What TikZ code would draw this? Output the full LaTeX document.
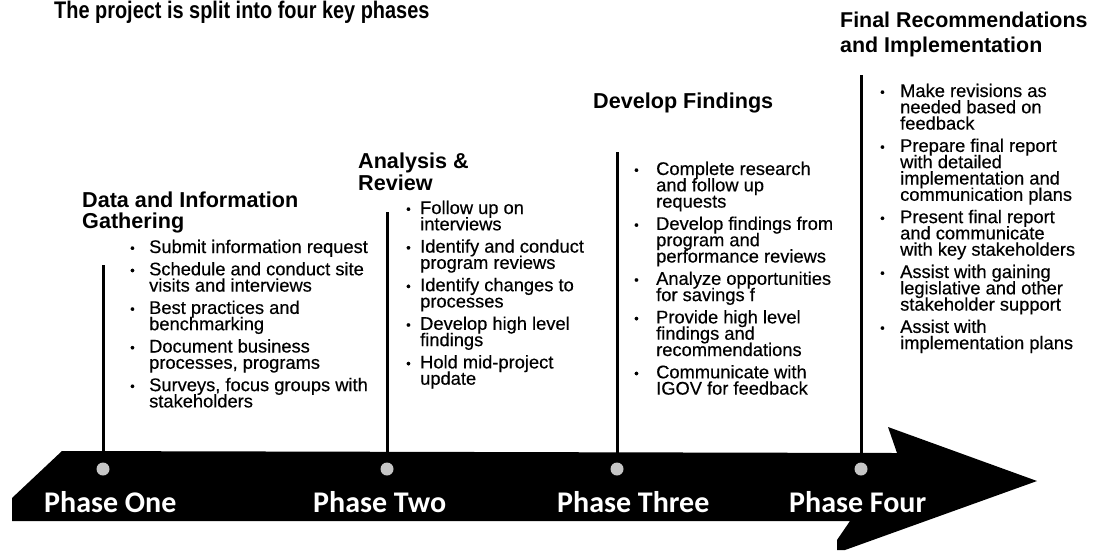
\documentclass[tikz,border=0pt]{standalone}
\usepackage{fontspec}
\setmainfont{Liberation Sans}
\newfontfamily\listfont{Liberation Sans}[FakeBold=0.4]
\newfontfamily\titlefont{Liberation Sans}[FakeStretch=0.83]
\newfontfamily\phasefont{Carlito}

% bullet lists under each phase
\newlength\bulletgap
\newcommand\phaseitem[1]{\par\addvspace{6pt}\hangindent=\bulletgap\hangafter=1\noindent
	\makebox[\bulletgap][l]{\raisebox{0.5pt}{\fontsize{13}{13}\selectfont\textbullet}}#1}
\newcommand\phaselist[2]{\begin{minipage}[t]{240pt}\rightskip=0pt plus 1fil
	\listfont\fontsize{18.3}{16.3}\selectfont\lineskiplimit=-50pt
	\setlength\bulletgap{#1}#2\end{minipage}}
\newcommand\headtext[3]{\begin{minipage}[t]{270pt}\raggedright
	\fontsize{#1}{#2}\selectfont\bfseries\lineskiplimit=-50pt #3\end{minipage}}

\begin{document}
\begin{tikzpicture}[x=1pt, y=-1pt,
	head/.style={anchor=base west, inner sep=0pt},
	list/.style={anchor=base west, inner sep=0pt},
	phase/.style={anchor=base west, inner sep=0pt, text=white,
		font=\phasefont\bfseries\fontsize{30}{30}\selectfont},
	marker/.style={line width=3pt},
	dot/.style={circle, fill=gray!45, minimum size=13pt, inner sep=0pt},
	]
	\useasboundingbox[fill=white] (0,0) rectangle (1107,550);

	% the big black arrow
	\fill (12,521) -- (12,498) -- (62,451) -- (897,453) -- (888,427)
		-- (1037,481) -- (845,550) -- (837,550) -- (837,540) -- (850,521) -- cycle;

	\node[phase] (p1) at (44,512) {Phase One};
	\node[phase] (p2) at (313,512) {Phase Two};
	\node[phase] (p3) at (557,512) {Phase Three};
	\node[phase] (p4) at (789,512) {Phase Four};

	% milestone dots and their poles
	\foreach \n/\x/\top in {1/103/265, 2/387/212, 3/617/152, 4/861/75} {
		\node[dot] (dot\n) at (\x,469) {};
		\coordinate (top\n) at (\x,\top);
		\draw[marker] (top\n) -- (dot\n);
	}

	\node[anchor=base west, inner sep=0pt, font=\titlefont\bfseries\fontsize{24}{24}\selectfont]
		(title) at (54,18) {The project is split into four key phases};

	\node[head] (h1) at (82,207) {\headtext{21.6}{21}{Data and Information\\Gathering}};
	\node[head] (h2) at (358,168) {\headtext{21.6}{22}{Analysis \&\\Review}};
	\node[head] (h3) at (593,108) {\headtext{21.6}{21}{Develop Findings}};
	\node[head] (h4) at (840,27) {\headtext{21.4}{25}{Final Recommendations\\and Implementation}};

	\node[list] (l1) at (130,253) {\phaselist{19pt}{
		\phaseitem{Submit information request}
		\phaseitem{Schedule and conduct site\\visits and interviews}
		\phaseitem{Best practices and\\benchmarking}
		\phaseitem{Document business\\processes, programs}
		\phaseitem{Surveys, focus groups with\\stakeholders}}};
	\node[list] (l2) at (406,214) {\phaselist{14pt}{
		\phaseitem{Follow up on\\interviews}
		\phaseitem{Identify and conduct\\program reviews}
		\phaseitem{Identify changes to\\processes}
		\phaseitem{Develop high level\\findings}
		\phaseitem{Hold mid-project\\update}}};
	\node[list] (l3) at (634,175) {\phaselist{22pt}{
		\phaseitem{Complete research\\and follow up\\requests}
		\phaseitem{Develop findings from\\program and\\performance reviews}
		\phaseitem{Analyze opportunities\\for savings f}
		\phaseitem{Provide high level\\findings and\\recommendations}
		\phaseitem{Communicate with\\IGOV for feedback}}};
	\node[list] (l4) at (880,97) {\phaselist{20pt}{
		\phaseitem{Make revisions as\\needed based on\\feedback}
		\phaseitem{Prepare final report\\with detailed\\implementation and\\communication plans}
		\phaseitem{Present final report\\and communicate\\with key stakeholders}
		\phaseitem{Assist with gaining\\legislative and other\\stakeholder support}
		\phaseitem{Assist with\\implementation plans}}};
\end{tikzpicture}
\end{document}
